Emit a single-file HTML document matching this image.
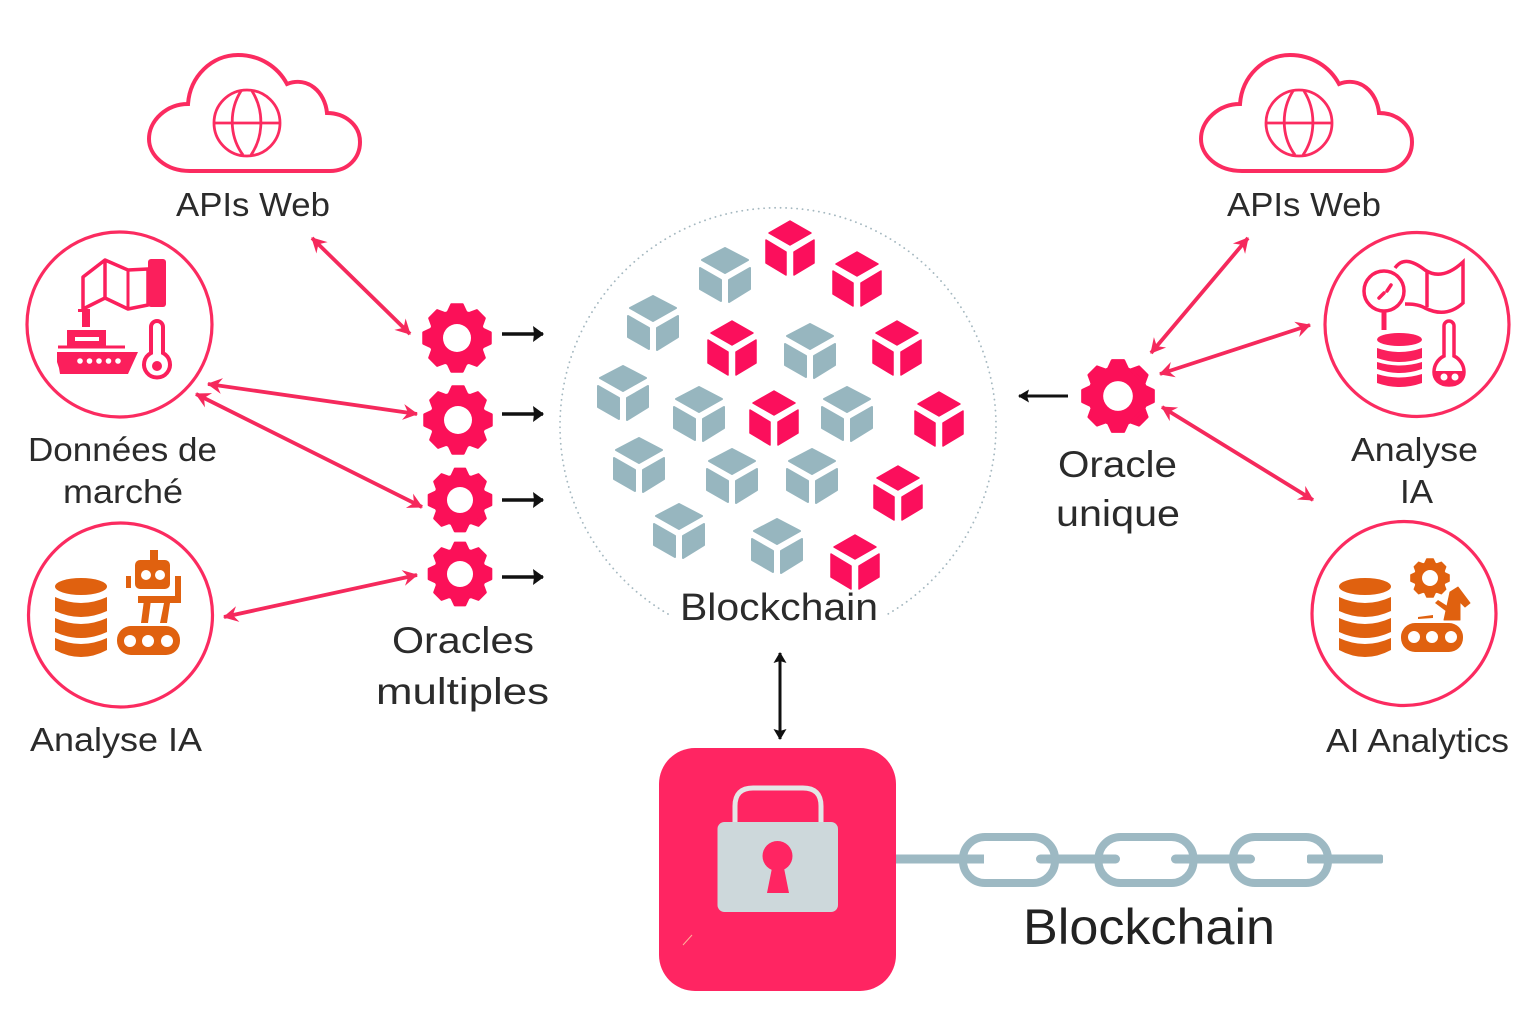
<!DOCTYPE html>
<html lang="fr"><head><meta charset="utf-8"><title>Oracles et blockchain</title>
<style>
html,body{margin:0;padding:0;background:#fff}
svg{display:block}
text{font-family:"Liberation Sans",sans-serif;fill:#2b2b2b}
.a{stroke:#f5295c;stroke-width:3.8;fill:none}
.k{stroke:#111;stroke-width:3.5;fill:none}
.k2{stroke:#111;stroke-width:3;fill:none}
.o{fill:none;stroke:#fb2b60;stroke-width:3.2}
.p{fill:#fb1f5c}
.or{fill:#e0610f}
</style></head><body>
<svg xmlns="http://www.w3.org/2000/svg" width="1536" height="1024" viewBox="0 0 1536 1024">
<defs>
<marker id="hp" viewBox="-15 -9 17 18" markerWidth="17" markerHeight="18" markerUnits="userSpaceOnUse" refX="0" refY="0" orient="auto-start-reverse"><path d="M1 0L-14 -8L-9 0L-14 8Z" fill="#f5295c"/></marker>
<marker id="hk" viewBox="-12 -9 14 18" markerWidth="14" markerHeight="18" markerUnits="userSpaceOnUse" refX="0" refY="0" orient="auto-start-reverse"><path d="M1 0L-10 -8L-9 0L-10 8Z" fill="#111"/></marker>
<marker id="hk2" viewBox="-12 -8 14 16" markerWidth="14" markerHeight="16" markerUnits="userSpaceOnUse" refX="0" refY="0" orient="auto-start-reverse"><path d="M1 0L-10 -6.500L-8 0L-10 6.500Z" fill="#111"/></marker>
<g id="gear"><circle r="28.500"/>
<g stroke-width="2.500" stroke-linejoin="round" id="teeth"><path d="M-9 -26L-5.500 -33.500H5.500L9 -26Z" stroke="currentColor"/><path d="M-9 -26L-5.500 -33.500H5.500L9 -26Z" stroke="currentColor" transform="rotate(45)"/><path d="M-9 -26L-5.500 -33.500H5.500L9 -26Z" stroke="currentColor" transform="rotate(90)"/><path d="M-9 -26L-5.500 -33.500H5.500L9 -26Z" stroke="currentColor" transform="rotate(135)"/><path d="M-9 -26L-5.500 -33.500H5.500L9 -26Z" stroke="currentColor" transform="rotate(180)"/><path d="M-9 -26L-5.500 -33.500H5.500L9 -26Z" stroke="currentColor" transform="rotate(225)"/><path d="M-9 -26L-5.500 -33.500H5.500L9 -26Z" stroke="currentColor" transform="rotate(270)"/><path d="M-9 -26L-5.500 -33.500H5.500L9 -26Z" stroke="currentColor" transform="rotate(315)"/></g>
<circle r="14" fill="#fff"/></g>
<g id="cb" fill="#97b6bf" stroke="#97b6bf" stroke-width="2" stroke-linejoin="round"><path d="M0 -27L23 -15L0 -2L-23 -15Z"/><path d="M-25 -7L-4 5V26L-25 14Z"/><path d="M4 5L25 -7V14L4 27Z"/></g>
<g id="cp" fill="#fb0f5c" stroke="#fb0f5c" stroke-width="1.500" stroke-linejoin="round"><path d="M0 -27L21 -15L0 -3L-21 -15Z"/><path d="M-24 -8L-4 4V27L-24 15Z"/><path d="M4 4L24 -8V15L4 27Z"/></g>
<g id="cloud"><path d="M190 171C165 171 149 155 149 139C149 120 167 104 188 104C190 76 212 55 238 55C260 55 278 67 287 84C308 76 325 92 327 113C345 113 360 125 360 142C360 158 348 171 330 171Z" fill="none" stroke="#fb2b60" stroke-width="4"/>
<g fill="none" stroke="#fb2b60" stroke-width="2.800"><circle cx="247" cy="123" r="33"/><path d="M241 91C229 110 229 136 243 155M252 91C264 110 264 136 251 155"/><path d="M214 123H280"/></g></g>
<g id="db" class="or"><ellipse cx="81" cy="586.500" rx="26" ry="8.500"/><path d="M55 597Q81 609 107 597V611Q81 623 55 611Z"/><path d="M55 618Q81 630 107 618V632Q81 644 55 632Z"/><path d="M55 638Q81 650 107 638V650Q81 664 55 650Z"/></g>
</defs>

<use href="#cloud"/><use href="#cloud" x="1052"/>

<text x="176" y="216" font-size="33" textLength="154" lengthAdjust="spacingAndGlyphs">APIs Web</text>
<text x="1227" y="216" font-size="33" textLength="154" lengthAdjust="spacingAndGlyphs">APIs Web</text>

<circle cx="119.500" cy="324.500" r="92.500" class="o"/><circle cx="1417" cy="324.500" r="92" class="o"/>
<circle cx="120.500" cy="615" r="92" class="o"/><circle cx="1404" cy="613.500" r="92" class="o"/>

<g>
<path d="M83 309V277L105 260L128 270L148 269V305L128 309L105 298Z" fill="none" stroke="#fb1f5c" stroke-width="3.500" stroke-linejoin="round"/>
<path d="M105 260V298" stroke="#fb1f5c" stroke-width="3.500"/><path d="M128 270V309" stroke="#fb1f5c" stroke-width="3"/>
<rect x="148" y="259" width="18" height="48" rx="3" class="p"/>
<rect x="82" y="309" width="8" height="18" class="p"/><rect x="78" y="309" width="8" height="3" class="p"/>
<path fill-rule="evenodd" class="p" d="M67 330H106V346H67ZM75 337V341H99V337Z"/>
<rect x="58" y="345.500" width="67" height="3" class="p"/>
<path class="p" d="M57 352H138L128 374H60L59 368L57 362Z"/>
<g fill="#fff"><circle cx="80" cy="361" r="2.800"/><circle cx="89.500" cy="361" r="2.800"/><circle cx="99" cy="361" r="2.800"/><circle cx="108.500" cy="361" r="2.800"/><circle cx="118" cy="361" r="2.800"/></g>
<path d="M151 353V327a6 6 0 0 1 12 0V353a13 13 0 1 1 -12 0Z" fill="#fff" stroke="#fb1f5c" stroke-width="4"/>
<circle cx="157" cy="366" r="5" class="p"/>
</g>

<g>
<circle cx="1384" cy="291" r="20" fill="none" stroke="#fb1f5c" stroke-width="3.500"/>
<rect x="1381.500" y="312" width="5" height="18" class="p"/>
<path d="M1379 298L1384 293M1387 291L1391 285" stroke="#fb1f5c" stroke-width="3.500" stroke-linecap="round"/>
<path d="M1395 268C1402 258 1412 260 1425 270C1437 278 1450 274 1463 262V303C1450 315 1437 314 1425 308C1418 304 1410 304 1405 304" fill="none" stroke="#fb1f5c" stroke-width="3.500"/>
<path d="M1427 272V307" stroke="#fb1f5c" stroke-width="3.500"/>
<ellipse cx="1399.500" cy="339.500" rx="22.500" ry="6.500" class="p"/>
<path class="p" d="M1377 348Q1399.500 356 1422 348V358Q1399.500 366 1377 358Z"/>
<path class="p" d="M1377 362Q1399.500 369 1422 362V369Q1399.500 377 1377 369Z"/>
<path class="p" d="M1377 374Q1399.500 381 1422 374V383Q1399.500 391 1377 383Z"/>
<path d="M1444 356V326a5 5 0 0 1 10 0V356C1460 359 1464 365 1464 372C1464 380 1458 385 1449 385C1440 385 1434 380 1434 372C1434 365 1438 359 1444 356Z" fill="#fff" stroke="#fb1f5c" stroke-width="3.500"/>
<path class="p" d="M1434 371H1464C1464 380 1458 386 1449 386C1440 386 1434 380 1434 371Z"/>
<circle cx="1444" cy="377" r="3.500" fill="#fff"/><circle cx="1455" cy="377" r="3.500" fill="#fff"/>
</g>

<use href="#db"/>
<g class="or">
<rect x="135" y="560" width="35" height="29" rx="5"/><rect x="150" y="550" width="8" height="11"/>
<rect x="126" y="576" width="5" height="12"/>
<rect x="175" y="576" width="6" height="27"/><path d="M138 596H181V603H138Z"/>
<path d="M144 600H151L148 623H141Z"/><path d="M164 603H170L167 623H160Z"/>
<rect x="117" y="626" width="63" height="29" rx="14"/>
</g>
<g fill="#fff"><circle cx="146" cy="575" r="5"/><circle cx="160" cy="575" r="5"/><circle cx="130" cy="641" r="6"/><circle cx="148" cy="641" r="6"/><circle cx="167" cy="641" r="6"/></g>

<use href="#db" x="1284"/>
<g class="or">
<rect x="1401" y="623" width="62" height="29" rx="14"/>
<path d="M1444 620L1450 592L1458 587L1470 603L1465 607L1460 602V620Z" stroke="#e0610f" stroke-width="1" stroke-linejoin="round"/>
<path d="M1435 603L1438 600L1449 607L1447 612Z"/>
<path d="M1418 617L1433 615V618L1418 619Z"/>
</g>
<use href="#gear" transform="translate(1430 578) scale(.57)" fill="#e0610f" style="color:#e0610f"/>
<g fill="#fff"><circle cx="1414" cy="637" r="6"/><circle cx="1432" cy="637" r="6"/><circle cx="1451" cy="637" r="6"/></g>

<text x="28" y="461" font-size="33" textLength="189" lengthAdjust="spacingAndGlyphs">Données de</text>
<text x="63" y="503" font-size="33" textLength="120" lengthAdjust="spacingAndGlyphs">marché</text>
<text x="30" y="751" font-size="33" textLength="172" lengthAdjust="spacingAndGlyphs">Analyse IA</text>
<text x="1351" y="461" font-size="33" textLength="127" lengthAdjust="spacingAndGlyphs">Analyse</text>
<text x="1400" y="503" font-size="33" textLength="33" lengthAdjust="spacingAndGlyphs">IA</text>
<text x="1326" y="752" font-size="33" textLength="183" lengthAdjust="spacingAndGlyphs">AI Analytics</text>
<text x="392" y="653" font-size="37" textLength="142" lengthAdjust="spacingAndGlyphs">Oracles</text>
<text x="376" y="704" font-size="37" textLength="173" lengthAdjust="spacingAndGlyphs">multiples</text>
<text x="1058" y="477" font-size="37" textLength="119" lengthAdjust="spacingAndGlyphs">Oracle</text>
<text x="1056" y="526" font-size="37" textLength="124" lengthAdjust="spacingAndGlyphs">unique</text>
<text x="680" y="620" font-size="38" textLength="198" lengthAdjust="spacingAndGlyphs">Blockchain</text>
<text x="1023" y="944" font-size="50" textLength="252" lengthAdjust="spacingAndGlyphs" style="fill:#222">Blockchain</text>

<g class="a">
<path d="M312 238L410 334" marker-start="url(#hp)" marker-end="url(#hp)"/>
<path d="M208 384L417 414" marker-start="url(#hp)" marker-end="url(#hp)"/>
<path d="M196 394L422 507" marker-start="url(#hp)" marker-end="url(#hp)"/>
<path d="M224 617L417 575" marker-start="url(#hp)" marker-end="url(#hp)"/>
<path d="M1248 238L1151 353" marker-start="url(#hp)" marker-end="url(#hp)"/>
<path d="M1310 325L1160 374" marker-start="url(#hp)" marker-end="url(#hp)"/>
<path d="M1162 407L1313 500" marker-start="url(#hp)" marker-end="url(#hp)"/>
</g>

<g fill="#fb1058" style="color:#fb1058">
<use href="#gear" x="457" y="338"/><use href="#gear" x="458" y="420"/>
<use href="#gear" transform="translate(460 500) scale(.93)"/><use href="#gear" transform="translate(460 574) scale(.93)"/>
<use href="#gear" transform="translate(1118 396) scale(1.06)"/>
</g>

<g class="k">
<path d="M502 334H543" marker-end="url(#hk)"/><path d="M502 414H543" marker-end="url(#hk)"/>
<path d="M502 500H543" marker-end="url(#hk)"/><path d="M502 577H543" marker-end="url(#hk)"/>
</g>
<g class="k2">
<path d="M1068 396H1019" marker-end="url(#hk2)"/>
<path d="M780 653V739" marker-start="url(#hk2)" marker-end="url(#hk2)"/>
</g>

<path d="M668 614A218 218 0 1 1 888 614" fill="none" stroke="#a5b8c0" stroke-width="1.800" stroke-dasharray="0.100 5.400" stroke-linecap="round"/>

<use href="#cp" x="790" y="248"/><use href="#cp" x="857" y="279"/><use href="#cp" x="732" y="348"/><use href="#cp" x="897" y="348"/><use href="#cp" x="774" y="418"/><use href="#cp" x="939" y="419"/><use href="#cp" x="898" y="493"/><use href="#cp" x="855" y="562"/>
<use href="#cb" x="725" y="275"/><use href="#cb" x="653" y="323"/><use href="#cb" x="810" y="351"/><use href="#cb" x="623" y="393"/><use href="#cb" x="699" y="414"/><use href="#cb" x="847" y="414"/><use href="#cb" x="639" y="465"/><use href="#cb" x="732" y="476"/><use href="#cb" x="812" y="476"/><use href="#cb" x="679" y="531"/><use href="#cb" x="777" y="546"/>

<rect x="659" y="748" width="237" height="243" rx="36" fill="#ff2562"/>
<path d="M683 945L692 935" stroke="#ffb09a" stroke-width="1"/>
<path d="M735 824V806Q735 788 753 788H803Q821 788 821 806V824" fill="none" stroke="#e4e6e6" stroke-width="5"/>
<rect x="717.500" y="822" width="120.500" height="90" rx="7" fill="#cdd8db"/>
<ellipse cx="777.500" cy="856" rx="15" ry="15" fill="#ff2562"/>
<path d="M772 868H784L789 893H767Z" fill="#ff2562"/>

<g fill="none" stroke="#9db9c3">
<rect x="896" y="854.500" width="88" height="9" fill="#9db9c3" stroke="none"/>
<rect x="1036" y="854.500" width="84" height="9" rx="4.500" fill="#9db9c3" stroke="none"/>
<rect x="1171" y="854.500" width="84" height="9" rx="4.500" fill="#9db9c3" stroke="none"/>
<rect x="1307" y="854.500" width="76" height="9" rx="2" fill="#9db9c3" stroke="none"/>
<rect x="963" y="837" width="92" height="46" rx="22" stroke-width="8"/>
<rect x="1098.500" y="837" width="95" height="46" rx="22" stroke-width="8"/>
<rect x="1233" y="837" width="95" height="46" rx="22" stroke-width="8"/>
</g>
</svg>
</body></html>
